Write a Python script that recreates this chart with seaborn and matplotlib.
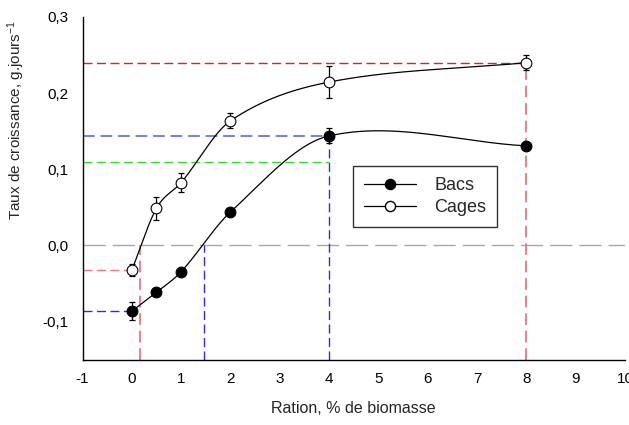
import numpy as np
import pandas as pd
import matplotlib
matplotlib.use("Agg")
import matplotlib.pyplot as plt
from matplotlib.lines import Line2D
from matplotlib.ticker import MultipleLocator, FuncFormatter
import seaborn as sns

# ---- data ----
ration = [0, 0.5, 1, 2, 4, 8]
bacs = [-0.0865, -0.0615, -0.0347, 0.0438, 0.1438, 0.1307]
bacs_err = [0.012, 0.0, 0.0, 0.0, 0.010, 0.0]
cages = [-0.0325, 0.0487, 0.0824, 0.1636, 0.2145, 0.240]
cages_err = [0.008, 0.015, 0.012, 0.010, 0.021, 0.010]
series_names = ["Bacs", "Cages"]
x_ticks = list(range(-1, 11))
y_ticks = [-0.1, 0.0, 0.1, 0.2, 0.3]
# reference levels
cages_zero_x = 0.17
bacs_zero_x = 1.47
green_level = 0.11

sns.set_style("white")
plt.rcParams["font.family"] = ["Liberation Sans", "DejaVu Sans"]
plt.rcParams["mathtext.fontset"] = "custom"
plt.rcParams["mathtext.rm"] = "Liberation Sans"
plt.rcParams["mathtext.it"] = "Liberation Sans"

fig = plt.figure(figsize=(6.29, 4.25), dpi=100)
ax = fig.add_axes([82.5 / 629, 65.5 / 425, 542.5 / 629, 342.5 / 425])
ax.set_xlim(-1, 10)
ax.set_ylim(-0.15, 0.3)


def smooth_curve(x, y, xs):
    """Catmull-Rom style cubic Hermite curve through the points (drawing only)."""
    x = np.asarray(x, float)
    y = np.asarray(y, float)
    n = len(x)
    m = np.zeros(n)
    m[0] = (y[1] - y[0]) / (x[1] - x[0])
    m[-1] = (y[-1] - y[-2]) / (x[-1] - x[-2])
    for i in range(1, n - 1):
        m[i] = (y[i + 1] - y[i - 1]) / (x[i + 1] - x[i - 1])
    idx = np.clip(np.searchsorted(x, xs) - 1, 0, n - 2)
    h = x[idx + 1] - x[idx]
    t = (xs - x[idx]) / h
    h00 = 2 * t ** 3 - 3 * t ** 2 + 1
    h10 = t ** 3 - 2 * t ** 2 + t
    h01 = -2 * t ** 3 + 3 * t ** 2
    h11 = t ** 3 - t ** 2
    return h00 * y[idx] + h10 * h * m[idx] + h01 * y[idx + 1] + h11 * h * m[idx + 1]


# ---- reference dashed lines ----
gray = "#a8a8a8"
red_dark = "#d82424"
red_light = "#f27474"
blue = "#2a2aff"
blue_light = "#6e6eff"
green = "#30e030"
short = (0, (6.5, 3.2))
ax.plot([-1, 10], [0, 0], color=gray, lw=1.0, ls=(0, (16, 5)), zorder=1)
ax.plot([-1, 8], [cages[-1], cages[-1]], color=red_dark, lw=1.0, ls=short, zorder=1)
ax.plot([8, 8], [-0.15, cages[-1]], color=red_light, lw=1.3, ls=short, zorder=1)
ax.plot([-1, 4], [bacs[4], bacs[4]], color=blue_light, lw=1.3, ls=short, zorder=1)
ax.plot([4, 4], [-0.15, bacs[4]], color=blue, lw=1.0, ls=short, zorder=1)
ax.plot([-1, 4], [green_level, green_level], color=green, lw=1.0, ls=short, zorder=1)
ax.plot([-1, 0], [cages[0], cages[0]], color=red_light, lw=1.0, ls=short, zorder=1)
ax.plot([cages_zero_x, cages_zero_x], [-0.15, 0], color=red_light, lw=1.3, ls=short, zorder=1)
ax.plot([-1, 0], [bacs[0], bacs[0]], color=blue, lw=1.0, ls=short, zorder=1)
ax.plot([bacs_zero_x, bacs_zero_x], [-0.15, 0], color=blue, lw=1.0, ls=short, zorder=1)

# ---- smooth curves ----
xs = np.linspace(0, 8, 400)
curve_df = pd.concat([
    pd.DataFrame({"x": xs, "y": smooth_curve(ration, bacs, xs), "s": "Bacs"}),
    pd.DataFrame({"x": xs, "y": smooth_curve(ration, cages, xs), "s": "Cages"}),
])
sns.lineplot(data=curve_df, x="x", y="y", units="s", estimator=None,
             color="black", lw=0.9, ax=ax, legend=False, zorder=3)

# ---- error bars ----
ax.errorbar(ration, bacs, yerr=bacs_err, fmt="none", ecolor="black",
            elinewidth=0.9, capsize=2.2, capthick=0.9, zorder=4)
ax.errorbar(ration, cages, yerr=cages_err, fmt="none", ecolor="black",
            elinewidth=0.9, capsize=2.2, capthick=0.9, zorder=4)

# ---- markers ----
sns.scatterplot(x=ration, y=bacs, marker="o", s=60, color="black",
                edgecolor="black", linewidth=0.8, ax=ax, zorder=5)
sns.scatterplot(x=ration, y=cages, marker="o", s=60, color="white",
                edgecolor="black", linewidth=0.8, ax=ax, zorder=5)

# ---- axes styling ----
for side in ["top", "right"]:
    ax.spines[side].set_visible(False)
for side in ["left", "bottom"]:
    ax.spines[side].set_linewidth(1.0)
    ax.spines[side].set_color("black")

ax.set_xticks(x_ticks)
ax.set_yticks(y_ticks)
ax.xaxis.set_minor_locator(MultipleLocator(0.25))
ax.yaxis.set_minor_locator(MultipleLocator(0.02))
ax.yaxis.set_major_formatter(FuncFormatter(lambda v, p: f"{v:.1f}".replace(".", ",").replace("-0,0", "0,0")))
ax.xaxis.set_major_formatter(FuncFormatter(lambda v, p: f"{int(round(v))}"))
ax.tick_params(which="major", direction="out", length=4, width=0.8, labelsize=11,
               colors="black", pad=5)
ax.tick_params(which="minor", direction="inout", length=5, width=0.8, colors="black")
ax.tick_params(axis="y", which="major", pad=6)

ax.set_xlabel("Ration, % de biomasse", fontsize=11.5)
ax.xaxis.set_label_coords(0.5, -0.122)
ax.set_ylabel(r"Taux de croissance, g.jours$^{-1}$", fontsize=11)
ax.yaxis.set_label_coords(-0.102, 0.70)

handles = [
    Line2D([], [], color="black", lw=0.9, marker="o", markersize=7.3,
           markerfacecolor="black", markeredgecolor="black"),
    Line2D([], [], color="black", lw=0.9, marker="o", markersize=7.3,
           markerfacecolor="white", markeredgecolor="black"),
]
leg = ax.legend(handles, series_names, loc="upper left",
                bbox_to_anchor=((353 - 82.5) / 542.5, (359.5 - 166) / 342.5),
                borderaxespad=0, fontsize=13, frameon=True, fancybox=False,
                handlelength=2.9, handletextpad=1.0, labelspacing=0.3,
                borderpad=0.6)
leg.get_frame().set_edgecolor("black")
leg.get_frame().set_linewidth(1.0)

fig.savefig("out.png", dpi=100)
